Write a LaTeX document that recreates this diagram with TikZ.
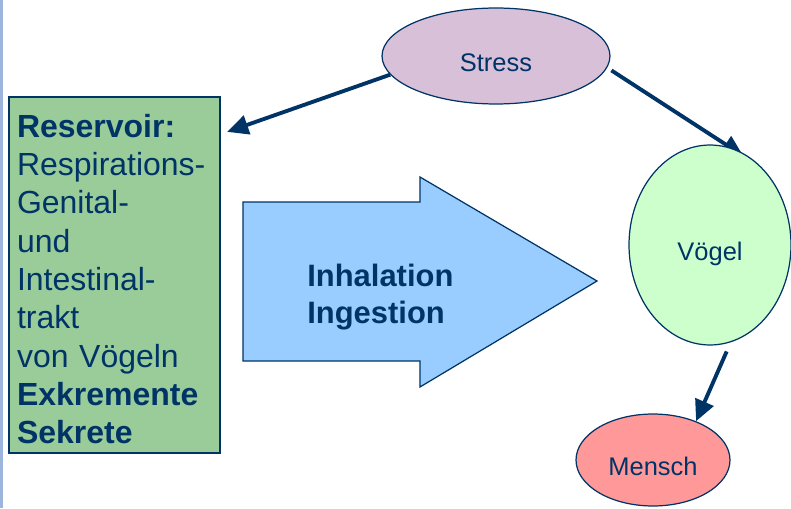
\documentclass[tikz,border=0pt]{standalone}
\usepackage{fontspec}
\setmainfont{Liberation Sans}
\usetikzlibrary{backgrounds, positioning, shapes.geometric, arrows.meta}

\definecolor{navy}{HTML}{003366}
\definecolor{resgreen}{HTML}{99CC99}
\definecolor{stresspink}{HTML}{D8C0D8}
\definecolor{vogelgreen}{HTML}{CCFFCC}
\definecolor{menschred}{HTML}{FF9999}
\definecolor{routeblue}{HTML}{99CCFF}
\definecolor{barblue}{HTML}{9DB4DC}

\tikzset{
  blob/.style={ellipse, draw=navy, line width=0.7pt, inner sep=0pt,
    text height=18pt, text depth=0pt,
    text=navy, font=\fontsize{14.5pt}{17pt}\selectfont},
  link/.style={draw=navy, line width=2.2pt, -{Triangle[length=12pt,width=11pt]}}
}

\begin{document}
\begin{tikzpicture}[x=0.02cm, y=0.02cm]
\useasboundingbox (0,0) rectangle (791,508);

% slide border on the left
\fill[barblue] (0,0) rectangle (3,508);

% reservoir box and its text
\node[draw=navy, fill=resgreen, line width=0.7pt, minimum width=4.22cm, minimum height=7.12cm] (res) at (114.5,233) {};
\node[text width=3.9cm, inner sep=0pt, align=left, text=navy,
      font=\fontsize{18.2pt}{21.8pt}\selectfont] (reslist) at ([yshift=-0.08cm]res.center)
  {\textbf{Reservoir:}\\ Respirations-\\ Genital-\\ und\\ Intestinal-\\ trakt\\ von Vögeln\\ \textbf{Exkremente}\\ \textbf{Sekrete}};

% big arrow for the route of infection
\draw[fill=routeblue, draw=navy, line width=0.7pt]
  (243,306) -- (420,306) -- (420,331) -- (597,227) -- (420,121) -- (420,147) -- (243,147) -- cycle;
\node[anchor=west, align=left, text=navy, inner sep=0pt,
      font=\fontsize{17.6pt}{21pt}\selectfont\bfseries] (route) at (307,210.5)
  {Inhalation\\ Ingestion};

% the three ellipses
\node[blob, fill=stresspink, minimum width=4.56cm, minimum height=1.92cm] (stress) at (496,452) {Stress};
\node[blob, fill=vogelgreen, minimum width=3.24cm, minimum height=4cm] (vogel) at (710,263) {Vögel};
\node[blob, fill=menschred, minimum width=3.08cm, minimum height=1.84cm] (mensch) at (653,48) {Mensch};

% connectors
\draw[link, shorten >=0.14cm] (stress.190) -- (res.53);
\begin{scope}[on background layer]
\draw[link, shorten <=0.1cm, shorten >=-0.3cm] (stress.-6) -- (vogel.78);
\end{scope}
\draw[link, shorten <=0.2cm] (vogel.-78) -- (mensch.42);

\end{tikzpicture}
\end{document}
